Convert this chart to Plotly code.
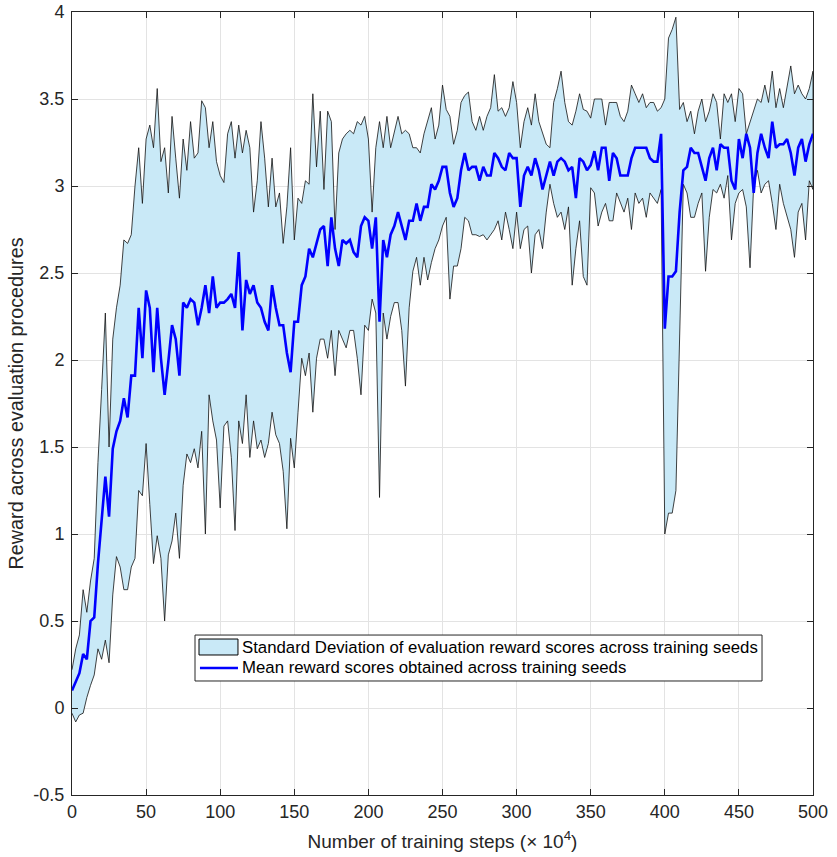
import numpy as np
import plotly.graph_objects as go

# training steps (x 10^4), sampled every 2.5
steps = np.arange(0, 500.0001, 2.5)

upper = [
    0.22, 0.34, 0.42, 0.68, 0.55, 0.73, 0.86, 1.41, 1.83, 2.27,
    1.50, 2.12, 2.30, 2.43, 2.69, 2.67, 2.72, 3.00, 3.22, 2.90,
    3.27, 3.35, 3.22, 3.56, 3.14, 3.22, 2.96, 3.40, 3.16, 2.93,
    3.27, 3.09, 3.37, 3.16, 3.19, 3.49, 3.45, 3.22, 3.37, 3.14,
    3.06, 3.02, 3.30, 3.37, 3.16, 3.35, 3.19, 3.32, 3.22, 2.85,
    3.03, 3.37, 3.16, 2.88, 3.16, 2.88, 2.96, 2.67, 2.88, 3.22,
    2.69, 2.93, 2.90, 3.03, 3.01, 3.53, 3.11, 3.43, 2.98, 3.43,
    3.37, 2.75, 3.19, 3.27, 3.30, 3.32, 3.30, 3.37, 3.35, 3.40,
    3.27, 2.85, 3.22, 3.37, 3.22, 3.40, 3.22, 3.32, 3.40, 3.30,
    3.32, 3.30, 3.22, 3.22, 3.19, 3.30, 3.37, 3.45, 3.27, 3.35,
    3.58, 3.44, 3.40, 3.24, 3.32, 3.48, 3.52, 3.54, 3.37, 3.32,
    3.40, 3.32, 3.40, 3.45, 3.64, 3.43, 3.45, 3.40, 3.45, 3.60,
    3.48, 3.22, 3.37, 3.45, 3.35, 3.53, 3.37, 3.30, 3.24, 3.22,
    3.48, 3.56, 3.66, 3.48, 3.37, 3.35, 3.43, 3.53, 3.44, 3.43,
    3.39, 3.50, 3.50, 3.50, 3.35, 3.48, 3.48, 3.48, 3.40, 3.37,
    3.43, 3.58, 3.53, 3.48, 3.53, 3.45, 3.48, 3.48, 3.43, 3.45,
    3.50, 3.85, 3.90, 3.97, 3.44, 3.48, 3.37, 3.43, 3.30, 3.43,
    3.50, 3.37, 3.43, 3.53, 3.48, 3.27, 3.53, 3.48, 3.53, 3.37,
    3.56, 3.53, 3.30, 3.37, 3.43, 3.50, 3.48, 3.58, 3.48, 3.66,
    3.45, 3.56, 3.45, 3.56, 3.69, 3.53, 3.58, 3.53, 3.50, 3.56,
    3.66,
]

mean_reward = [
    0.10, 0.15, 0.20, 0.31, 0.28, 0.50, 0.52, 0.83, 1.10, 1.33,
    1.10, 1.49, 1.59, 1.65, 1.78, 1.67, 1.91, 1.91, 2.30, 2.01,
    2.40, 2.30, 1.93, 2.30, 2.01, 1.80, 1.99, 2.20, 2.12, 1.91,
    2.33, 2.30, 2.35, 2.33, 2.20, 2.30, 2.43, 2.27, 2.48, 2.30,
    2.33, 2.33, 2.35, 2.38, 2.30, 2.62, 2.17, 2.46, 2.38, 2.43,
    2.33, 2.30, 2.22, 2.17, 2.43, 2.30, 2.20, 2.20, 2.04, 1.93,
    2.22, 2.22, 2.43, 2.48, 2.64, 2.59, 2.67, 2.75, 2.77, 2.54,
    2.82, 2.64, 2.54, 2.69, 2.67, 2.69, 2.62, 2.59, 2.77, 2.82,
    2.80, 2.64, 2.82, 2.22, 2.69, 2.59, 2.72, 2.77, 2.85, 2.77,
    2.69, 2.80, 2.80, 2.90, 2.80, 2.88, 2.88, 3.01, 2.98, 3.03,
    3.11, 3.11, 2.96, 2.88, 2.93, 3.09, 3.19, 3.09, 3.11, 3.11,
    3.03, 3.11, 3.06, 3.06, 3.19, 3.16, 3.11, 3.09, 3.19, 3.16,
    3.16, 2.88, 3.06, 3.11, 3.06, 3.16, 3.09, 2.98, 3.06, 3.14,
    3.06, 3.14, 3.16, 3.14, 3.09, 3.11, 2.93, 3.16, 3.14, 3.09,
    3.12, 3.20, 3.09, 3.22, 3.22, 3.03, 3.19, 3.16, 3.06, 3.06,
    3.06, 3.16, 3.22, 3.22, 3.22, 3.22, 3.16, 3.14, 3.14, 3.30,
    2.18, 2.48, 2.48, 2.51, 2.85, 3.09, 3.11, 3.22, 3.19, 3.19,
    3.11, 3.03, 3.16, 3.22, 3.09, 3.24, 3.22, 3.22, 3.03, 2.98,
    3.27, 3.16, 3.30, 3.22, 2.96, 3.19, 3.30, 3.22, 3.16, 3.37,
    3.22, 3.24, 3.24, 3.27, 3.19, 3.06, 3.22, 3.27, 3.14, 3.24,
    3.30,
]

lower = [
    -0.03, -0.08, -0.04, -0.03, 0.06, 0.13, 0.19, 0.34, 0.28, 0.39,
    0.26, 0.65, 0.87, 0.81, 0.68, 0.68, 0.81, 0.86, 1.25, 1.22,
    1.52, 1.17, 0.83, 0.99, 0.86, 0.50, 0.88, 0.96, 1.12, 0.86,
    1.28, 1.46, 1.41, 1.49, 1.38, 1.59, 1.00, 1.80, 1.65, 1.54,
    1.15, 1.62, 1.65, 1.44, 1.02, 1.65, 1.52, 1.80, 1.44, 1.65,
    1.49, 1.54, 1.44, 1.52, 1.70, 1.57, 1.52, 1.36, 1.03, 1.55,
    1.38, 1.70, 2.01, 1.91, 2.04, 1.70, 2.01, 2.12, 2.12, 2.01,
    2.17, 1.91, 2.17, 2.12, 2.07, 2.17, 2.17, 2.01, 1.80, 2.20,
    2.17, 2.35, 2.27, 1.21, 2.27, 2.12, 2.25, 2.33, 2.33, 2.17,
    1.85, 2.30, 2.51, 2.59, 2.43, 2.59, 2.46, 2.56, 2.64, 2.69,
    2.77, 2.82, 2.35, 2.54, 2.54, 2.64, 2.82, 2.80, 2.72, 2.72,
    2.71, 2.72, 2.69, 2.72, 2.75, 2.80, 2.69, 2.85, 2.75, 2.64,
    2.85, 2.64, 2.75, 2.77, 2.50, 2.72, 2.75, 2.64, 2.85, 3.01,
    2.90, 2.82, 2.85, 2.75, 2.88, 2.43, 2.64, 2.80, 2.48, 2.43,
    2.99, 2.96, 2.77, 2.85, 2.90, 2.80, 2.80, 2.96, 2.90, 2.85,
    2.93, 2.75, 2.96, 2.90, 2.93, 2.82, 2.96, 2.93, 2.90, 2.98,
    1.00, 1.12, 1.12, 1.25, 2.20, 3.01, 2.96, 2.82, 2.82, 2.90,
    2.96, 2.51, 2.82, 2.98, 2.96, 3.01, 2.93, 3.06, 2.69, 2.90,
    2.96, 2.98, 2.88, 2.53, 3.01, 3.09, 2.96, 3.01, 3.03, 2.90,
    2.75, 3.01, 2.90, 2.82, 2.75, 2.59, 2.85, 2.90, 2.69, 3.03,
    2.98,
]

x_ticks = [0, 50, 100, 150, 200, 250, 300, 350, 400, 450, 500]
y_ticks = [-0.5, 0, 0.5, 1, 1.5, 2, 2.5, 3, 3.5, 4]
y_tick_labels = ["-0.5", "0", "0.5", "1", "1.5", "2", "2.5", "3", "3.5", "4"]
legend_labels = [
    "Standard Deviation of evaluation reward scores across training seeds",
    "Mean reward scores obtained across training seeds",
]

FILL = "#c9e9f7"
MEAN = "#0000ff"
TXT = "#262626"
FONT = "Liberation Sans, Arial, sans-serif"

x_list = list(steps)
band_x = x_list + x_list[::-1]
band_y = list(upper) + list(lower)[::-1]

fig = go.Figure()
fig.add_trace(go.Scatter(
    x=band_x, y=band_y, fill="toself", fillcolor=FILL,
    line=dict(color="#111111", width=0.8), mode="lines",
    name=legend_labels[0], hoverinfo="skip", showlegend=False,
))
fig.add_trace(go.Scatter(
    x=x_list, y=mean_reward, mode="lines",
    line=dict(color=MEAN, width=2.6),
    name=legend_labels[1], showlegend=False,
))

# legend box drawn manually (MATLAB-style patch + line entries)
shapes = [
    dict(type="rect", xref="paper", yref="paper", x0=0.1660, x1=0.9312, y0=0.1456, y1=0.2043,
         fillcolor="white", line=dict(color=TXT, width=1), layer="above"),
    dict(type="rect", xref="paper", yref="paper", x0=0.1714, x1=0.2240, y0=0.1788, y1=0.1992,
         fillcolor=FILL, line=dict(color="#000000", width=1), layer="above"),
    dict(type="line", xref="paper", yref="paper", x0=0.1727, x1=0.2240, y0=0.1622, y1=0.1622,
         line=dict(color=MEAN, width=2.6), layer="above"),
]
annotations = [
    dict(xref="paper", yref="paper", x=0.2267, y=0.1890, xanchor="left", yanchor="middle",
         text=legend_labels[0], showarrow=False,
         font=dict(family=FONT, size=16.8, color="#000000")),
    dict(xref="paper", yref="paper", x=0.2267, y=0.1622, xanchor="left", yanchor="middle",
         text=legend_labels[1], showarrow=False,
         font=dict(family=FONT, size=16.8, color="#000000")),
]

axis_font = dict(family=FONT, size=18, color=TXT)

fig.update_layout(
    width=837, height=857,
    margin=dict(l=72, r=24, t=12, b=62),
    paper_bgcolor="white", plot_bgcolor="white",
    font=axis_font,
    showlegend=False,
    shapes=shapes,
    annotations=annotations,
)
fig.update_xaxes(
    range=[0, 500], tickvals=x_ticks, ticks="inside", ticklen=6,
    tickcolor=TXT, showline=True, linecolor=TXT, linewidth=1,
    mirror="ticks", showgrid=True, gridcolor="#e3e3e3", gridwidth=1,
    zeroline=False, tickfont=axis_font, automargin=False, ticklabeloverflow="allow",
    title=dict(text="Number of training steps (\u00d7 10<sup>4</sup>)",
               font=dict(family=FONT, size=19, color=TXT), standoff=14),
)
fig.update_yaxes(
    range=[-0.5, 4], tickvals=y_ticks, ticktext=y_tick_labels, ticks="inside", ticklen=6,
    tickcolor=TXT, showline=True, linecolor=TXT, linewidth=1,
    mirror="ticks", showgrid=True, gridcolor="#e3e3e3", gridwidth=1,
    zeroline=False, tickfont=axis_font, automargin=False, ticklabelstandoff=3,
    ticklabeloverflow="allow",
    title=dict(text="Reward across evaluation procedures",
               font=dict(family=FONT, size=19.8, color=TXT), standoff=4),
)

# remove the default 8px page margin so the figure fills the window exactly
fig.write_html("out.html", config={"displayModeBar": False},
               post_script="document.body.style.margin='0';")
